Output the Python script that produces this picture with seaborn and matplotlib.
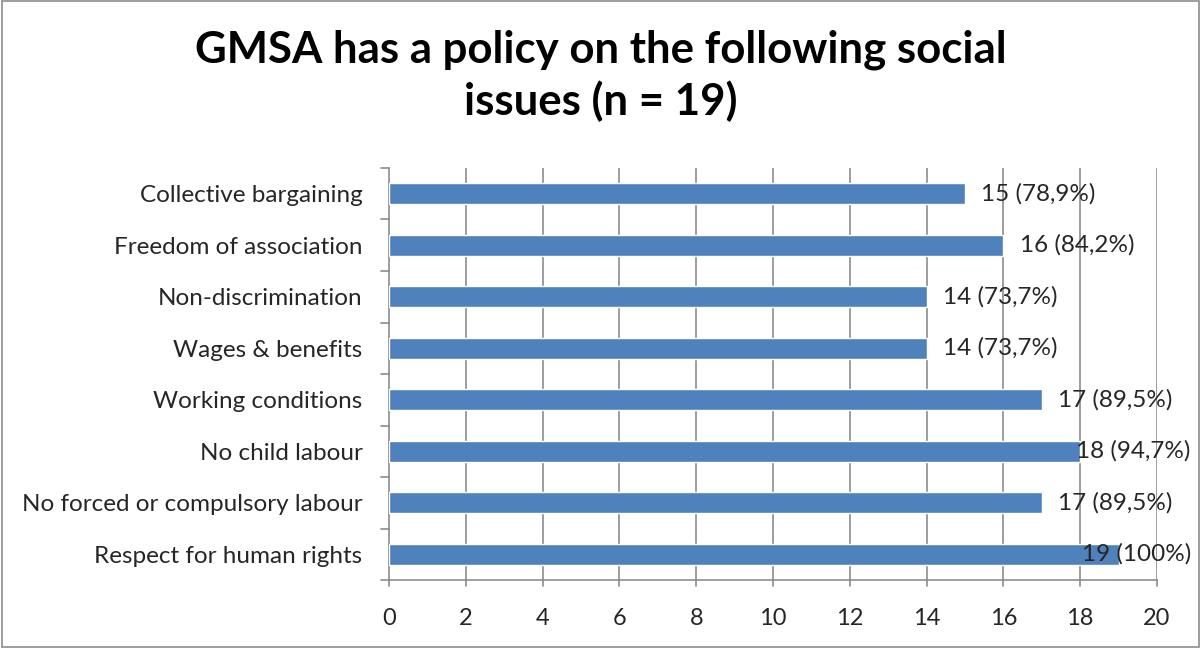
import matplotlib
matplotlib.use("Agg")
import matplotlib.pyplot as plt
import seaborn as sns
import pandas as pd
from matplotlib.patches import Rectangle

# Chart data
issues = [
    "Collective bargaining",
    "Freedom of association",
    "Non-discrimination",
    "Wages & benefits",
    "Working conditions",
    "No child labour",
    "No forced or compulsory labour",
    "Respect for human rights",
]
counts = [15, 16, 14, 14, 17, 18, 17, 19]
pct_labels = ["78,9%", "84,2%", "73,7%", "73,7%", "89,5%", "94,7%", "89,5%", "100%"]
x_ticks = [0, 2, 4, 6, 8, 10, 12, 14, 16, 18, 20]

df = pd.DataFrame({"issue": issues, "count": counts, "pct": pct_labels})

sns.set_style("white")
plt.rcParams["font.family"] = ["Lato", "DejaVu Sans"]

fig = plt.figure(figsize=(12.01, 6.48), dpi=100)
ax = fig.add_axes([389 / 1201, 1 - 580 / 648, (1157 - 389) / 1201, (580 - 168) / 648])

sns.barplot(data=df, x="count", y="issue", color="#4F81BD", saturation=1,
            width=0.4, ax=ax, zorder=3)

ax.set_xlim(0, 20)
ax.set_xticks(x_ticks)
ax.set_xticklabels([str(t) for t in x_ticks], fontsize=17)
ax.set_xlabel("")
ax.set_ylabel("")
ax.tick_params(axis="y", labelsize=17.5, length=0, pad=19)
ax.tick_params(axis="x", length=0, pad=20)

# gridlines and axes like Excel
for t in x_ticks[1:]:
    ax.axvline(t, color="#8C8C8C", lw=1.2, zorder=1)
for s in ["top", "right"]:
    ax.spines[s].set_visible(False)
for s in ["left", "bottom"]:
    ax.spines[s].set_color("#8C8C8C")
    ax.spines[s].set_linewidth(1.2)
n = len(issues)
for b in range(n + 1):
    ax.plot([-0.2, 0], [b - 0.5, b - 0.5], color="#8C8C8C", lw=1.2, clip_on=False)
for t in x_ticks:
    ax.plot([t, t], [n - 0.5, n - 0.5 + 0.12], color="#8C8C8C", lw=1.2, clip_on=False)
ax.set_ylim(n - 0.5, -0.5)

# value labels (pushed back inside the frame when they would overflow)
for i, (c, p) in enumerate(zip(counts, pct_labels)):
    txt = f"{c} ({p})"
    if c >= 18:
        ax.text(20.88, i, txt, ha="right", va="center", fontsize=17.5, clip_on=False, zorder=4)
    else:
        ax.text(c + 0.42, i, txt, ha="left", va="center", fontsize=17.5, clip_on=False, zorder=4)

fig.suptitle("GMSA has a policy on the following social\nissues (n = 19)",
             fontsize=31.5, fontweight="bold", x=0.5, y=0.955, linespacing=1.3,
             color="black")

fig.patches.append(Rectangle((0.0015, 0.002), 0.997, 0.996, transform=fig.transFigure,
                             fill=False, edgecolor="#8C8C8C", lw=1.2))

fig.savefig("out.png", dpi=100)
